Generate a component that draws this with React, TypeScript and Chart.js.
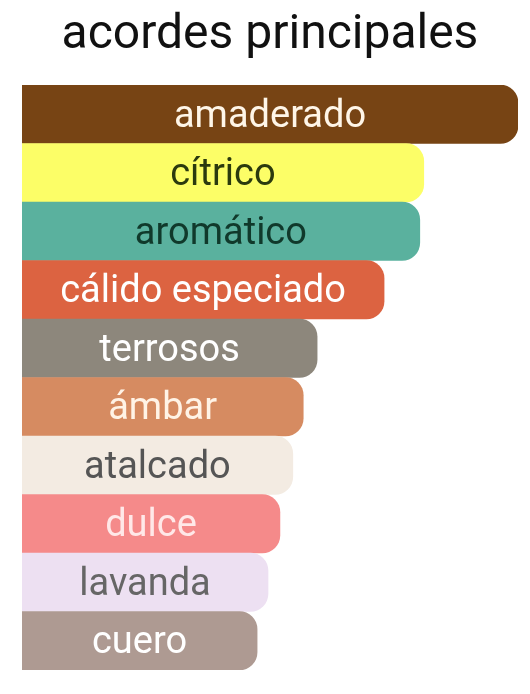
import React, { useEffect, useRef } from "react";
import Chart from "chart.js/auto";

const accords = [
  "amaderado",
  "cítrico",
  "aromático",
  "cálido especiado",
  "terrosos",
  "ámbar",
  "atalcado",
  "dulce",
  "lavanda",
  "cuero",
];

const strengths = [100, 81, 80.2, 73, 59.5, 56.7, 54.6, 52, 49.6, 47.4];

const barColors = [
  "#774414",
  "#fcfe67",
  "#5ab19e",
  "#dc6341",
  "#8d877c",
  "#d68b61",
  "#f3ebe2",
  "#f58a8a",
  "#ede0f2",
  "#ae9a92",
];

const textColors = [
  "#fff6e8",
  "#2b3a0e",
  "#10392b",
  "#ffffff",
  "#ffffff",
  "#fff3e6",
  "#555555",
  "#ffe8e8",
  "#666666",
  "#ffffff",
];

const barLabels = {
  id: "barLabels",
  afterDatasetsDraw(chart: Chart) {
    const { ctx } = chart;
    const meta = chart.getDatasetMeta(0);
    ctx.save();
    ctx.font = "38px Roboto";
    ctx.textAlign = "center";
    ctx.textBaseline = "middle";
    meta.data.forEach((bar: any, i: number) => {
      const cx = (bar.base + bar.x) / 2;
      ctx.fillStyle = textColors[i];
      ctx.fillText(accords[i], cx, bar.y + 3);
    });
    ctx.restore();
  },
};

const AccordsChart: React.FC = () => {
  const chartRef = useRef<HTMLCanvasElement | null>(null);

  useEffect(() => {
    if (!chartRef.current) return;
    const ctx = chartRef.current.getContext("2d");
    if (!ctx) return;

    const chart = new Chart(ctx, {
      type: "bar",
      data: {
        labels: accords,
        datasets: [
          {
            data: strengths,
            backgroundColor: barColors,
            borderWidth: 0,
            borderRadius: { topLeft: 0, bottomLeft: 0, topRight: 18, bottomRight: 18 },
            borderSkipped: false,
            categoryPercentage: 1,
            barPercentage: 1,
          },
        ],
      },
      options: {
        indexAxis: "y",
        animation: false,
        responsive: true,
        maintainAspectRatio: false,
        layout: { padding: { top: 4, left: 22, right: 12, bottom: 24 } },
        scales: {
          x: { display: false, min: 0, max: 100 },
          y: { display: false },
        },
        plugins: {
          legend: { display: false },
          tooltip: { enabled: false },
          title: {
            display: true,
            text: "acordes principales",
            color: "#111111",
            font: { family: "Roboto", size: 48, weight: "normal" },
            padding: { top: 3, bottom: 20.4 },
          },
        },
      },
      plugins: [barLabels],
    });

    return () => {
      chart.destroy();
    };
  }, []);

  return <canvas ref={chartRef} />;
};

export default function App() {
  return (
    <div
      style={{
        position: "absolute",
        left: 0,
        top: 0,
        width: 530,
        height: 694,
        background: "#ffffff",
      }}
    >
      <AccordsChart />
    </div>
  );
}
